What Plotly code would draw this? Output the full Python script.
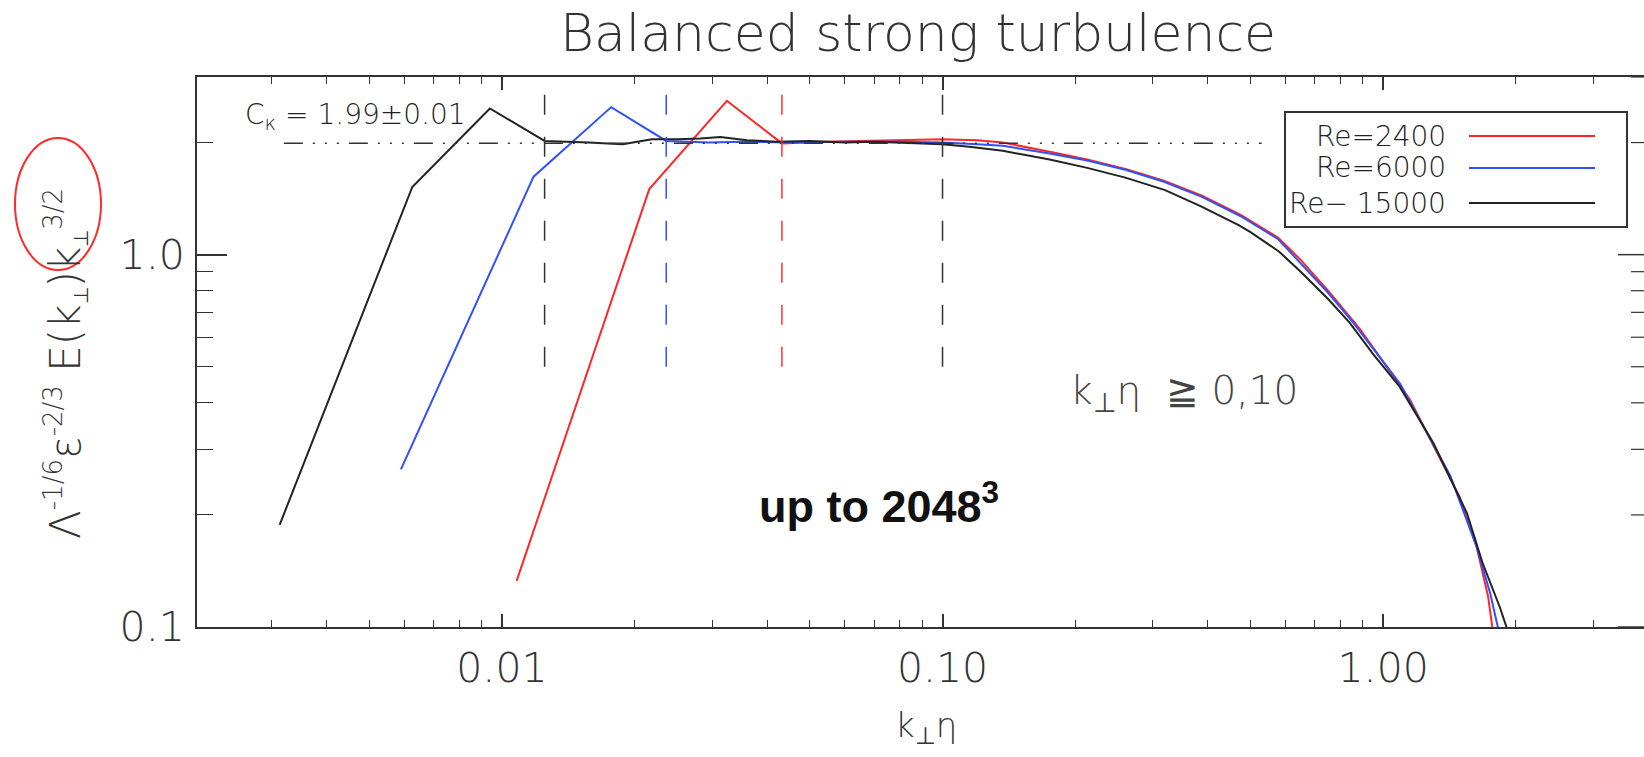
import plotly.graph_objects as go

# ---------------- data ----------------
k_re2400 = [0.0108, 0.0216, 0.0324, 0.0432, 0.054, 0.065, 0.08, 0.10, 0.12, 0.137,
            0.175, 0.213, 0.26, 0.318, 0.388, 0.474, 0.578, 0.649, 0.75, 0.887,
            1.15, 1.49, 1.63, 1.73, 1.78]
e_re2400 = [0.133, 1.50, 2.59, 1.99, 2.01, 2.02, 2.03, 2.04, 2.03, 2.00,
            1.89, 1.80, 1.70, 1.58, 1.44, 1.28, 1.11, 0.97, 0.80, 0.63,
            0.408, 0.224, 0.164, 0.121, 0.095]

k_re6000 = [0.0059, 0.0118, 0.0177, 0.0236, 0.0295, 0.0354, 0.045, 0.06, 0.08, 0.10,
            0.12, 0.137, 0.175, 0.213, 0.26, 0.318, 0.388, 0.474, 0.578, 0.649,
            0.75, 0.857, 1.093, 1.42, 1.63, 1.75, 1.85]
e_re6000 = [0.265, 1.62, 2.49, 2.02, 2.00, 2.01, 2.00, 2.01, 2.01, 2.00,
            1.98, 1.96, 1.87, 1.79, 1.69, 1.57, 1.43, 1.27, 1.10, 0.95,
            0.79, 0.655, 0.45, 0.255, 0.164, 0.123, 0.092]

k_re15000 = [0.00313, 0.00626, 0.00939, 0.0125, 0.0157, 0.0188, 0.0219, 0.0250, 0.0282, 0.0313,
             0.036, 0.042, 0.05, 0.06, 0.07, 0.08, 0.09, 0.10, 0.115, 0.137,
             0.175, 0.213, 0.26, 0.32, 0.385, 0.47, 0.50, 0.58, 0.65, 0.75,
             0.84, 0.95, 1.09, 1.30, 1.55, 1.68, 1.84, 1.95]
e_re15000 = [0.188, 1.52, 2.47, 2.02, 2.00, 1.98, 2.04, 2.04, 2.05, 2.07,
             2.03, 2.01, 2.02, 2.00, 2.01, 2.00, 1.99, 1.98, 1.95, 1.90,
             1.80, 1.71, 1.61, 1.49, 1.35, 1.20, 1.15, 1.02, 0.90, 0.76,
             0.656, 0.54, 0.442, 0.312, 0.202, 0.149, 0.113, 0.092]

series_names = ["Re=2400", "Re=6000", "Re− 15000"]
series_colors = ["#ff2626", "#3050ff", "#222222"]

# Kolmogorov constant line
ck_value = 1.99
ck_k_range = [0.0032, 0.53]

# vertical markers (k_perp eta)
vline_k = [0.0125, 0.0236, 0.0432, 0.10]
vline_colors = ["#333333", "#3050ff", "#ff3030", "#333333"]
vline_e_range = [0.5, 3.0]

x_tickvals = [0.01, 0.1, 1.0]
x_ticktext = ["0.01", "0.10", "1.00"]
y_tickvals = [0.1, 1.0]
y_ticktext = ["0.1", "1.0"]
x_minor = [m * d for d in (0.001, 0.01, 0.1, 1.0) for m in range(2, 10)]
y_minor = [m * d for d in (0.1, 1.0) for m in range(2, 4 if d >= 1 else 10)]

# ---------------- figure ----------------
W, H = 1644, 757
L, R, T, B = 197, 0, 77, 130
PW, PH = W - L - R, H - T - B
XR = [-2.692, 0.592]
YR = [-1, 0.4771]


def px(x):
    return (x - L) / PW


def py(y):
    return (H - B - y) / PH


TXT = "#333333"
AX = "#333333"
NB = "\u00a0"
fig = go.Figure()

series = [(k_re2400, e_re2400), (k_re6000, e_re6000), (k_re15000, e_re15000)]
for (k, e), name, col in zip(series, series_names, series_colors):
    fig.add_trace(go.Scatter(x=k, y=e, mode="lines", name=name,
                             line=dict(color=col, width=2), showlegend=False))

fig.add_trace(go.Scatter(x=ck_k_range, y=[ck_value, ck_value], mode="lines",
                         line=dict(color=AX, width=1.5,
                                   dash="19px,10px,2px,10px,2px,10px,2px,10px"),
                         showlegend=False, hoverinfo="skip"))

for kv, col in zip(vline_k, vline_colors):
    fig.add_trace(go.Scatter(x=[kv, kv], y=vline_e_range, mode="lines",
                             line=dict(color=col, width=1.5, dash="20px,22px"),
                             showlegend=False, hoverinfo="skip"))

tickfont = dict(family="DejaVu Sans", size=41, color="#333333", weight=300)

fig.update_layout(
    width=W, height=H,
    margin=dict(l=L, r=R, t=T, b=B),
    paper_bgcolor="white", plot_bgcolor="white",
    title=dict(text="Balanced strong turbulence", x=918 / W, xanchor="center",
               y=1 - 33 / H, yanchor="middle",
               font=dict(family="DejaVu Sans", size=52, color="#333333", weight=300)),
    xaxis=dict(type="log", range=XR, showgrid=False, zeroline=False,
               showline=True, linecolor=AX, linewidth=2, mirror="ticks",
               ticks="inside", ticklen=13, tickwidth=1.5, tickcolor=AX,
               tickvals=x_tickvals, ticktext=x_ticktext, tickfont=tickfont,
               ticklabelstandoff=4,
               minor=dict(tickvals=x_minor, ticks="inside", ticklen=7,
                          tickwidth=1.2, tickcolor=AX)),
    yaxis=dict(type="log", range=YR, showgrid=False, zeroline=False,
               showline=True, linecolor=AX, linewidth=2, mirror=False,
               ticks="inside", ticklen=30, tickwidth=1.5, tickcolor=AX,
               tickvals=y_tickvals, ticktext=y_ticktext, tickfont=tickfont,
               ticklabelstandoff=2,
               minor=dict(tickvals=y_minor, ticks="inside", ticklen=16,
                          tickwidth=1.2, tickcolor=AX)),
)

small = '<span style="font-size:{}px">{}</span>'
ytitle = ("Λ<sup>" + small.format(26, "-1/6") + "</sup>ε<sup>" + small.format(26, "-2/3") + "</sup>"
          + NB + "E(k<sub>" + small.format(20, "⊥") + "</sub>)k<sub>" + small.format(20, "⊥")
          + "</sub><sup>" + small.format(26, "3/2") + "</sup>")

ann = []
# x axis title
ann.append(dict(x=px(926), y=py(727), xref="paper", yref="paper",
                xanchor="center", yanchor="middle",
                text="k<sub>⊥</sub>η", showarrow=False,
                font=dict(family="DejaVu Sans", size=34, color=TXT, weight=300)))
# y axis title
ann.append(dict(x=px(66), y=py(364), xref="paper", yref="paper", textangle=-90,
                xanchor="center", yanchor="middle",
                text=ytitle, showarrow=False,
                font=dict(family="DejaVu Sans", size=42, color=TXT, weight=300)))
# C_K label
ann.append(dict(x=px(355), y=py(116), xref="paper", yref="paper",
                xanchor="center", yanchor="middle",
                text="C<sub>κ</sub>" + NB + "=" + NB + "1.99±0.01", showarrow=False,
                font=dict(family="DejaVu Sans", size=28, color="#222222", weight=300)))
# k eta >= 0.10
ann.append(dict(x=px(1184), y=py(393), xref="paper", yref="paper",
                xanchor="center", yanchor="middle",
                text="k<sub>⊥</sub>η" + NB + NB + "≧" + NB + "0,10", showarrow=False,
                font=dict(family="DejaVu Sans", size=39, color="#444444", weight=300)))
# up to 2048^3
ann.append(dict(x=px(879), y=py(503), xref="paper", yref="paper",
                xanchor="center", yanchor="middle",
                text="<b>up to 2048<sup>3</sup></b>", showarrow=False,
                font=dict(family="Liberation Sans, Arial, sans-serif", size=45, color="#111111")))

# legend (manual: text left, line right)
legend_rows_y = [136, 168, 203]
for name, yy in zip(series_names, legend_rows_y):
    ann.append(dict(x=px(1448), y=py(yy), xref="paper", yref="paper",
                    xanchor="right", yanchor="middle",
                    text=name, showarrow=False,
                    font=dict(family="DejaVu Sans", size=28, color="#222222", weight=300)))

shapes = [
    dict(type="rect", xref="paper", yref="paper", x0=px(1285), x1=px(1627),
         y0=py(227), y1=py(112), line=dict(color=AX, width=2),
         fillcolor="white", layer="above"),
    dict(type="circle", xref="paper", yref="paper", x0=px(15), x1=px(101),
         y0=py(270), y1=py(138), line=dict(color="#ff2a2a", width=2)),
]
for col, yy in zip(series_colors, legend_rows_y):
    shapes.append(dict(type="line", xref="paper", yref="paper", x0=px(1469), x1=px(1595),
                       y0=py(yy), y1=py(yy), line=dict(color=col, width=2), layer="above"))

# right-hand y ticks (the right frame line itself lies just outside the picture)
for v in y_tickvals:
    shapes.append(dict(type="line", xref="paper", yref="y", x0=1 - 26 / PW, x1=1,
                       y0=v, y1=v, line=dict(color=AX, width=1.5)))
for v in y_minor:
    shapes.append(dict(type="line", xref="paper", yref="y", x0=1 - 13 / PW, x1=1,
                       y0=v, y1=v, line=dict(color=AX, width=1.2)))

fig.update_layout(annotations=ann, shapes=shapes)
fig.write_html("out.html", config={"displayModeBar": False},
               post_script="document.body.style.margin='0px';document.body.style.overflow='hidden';")
